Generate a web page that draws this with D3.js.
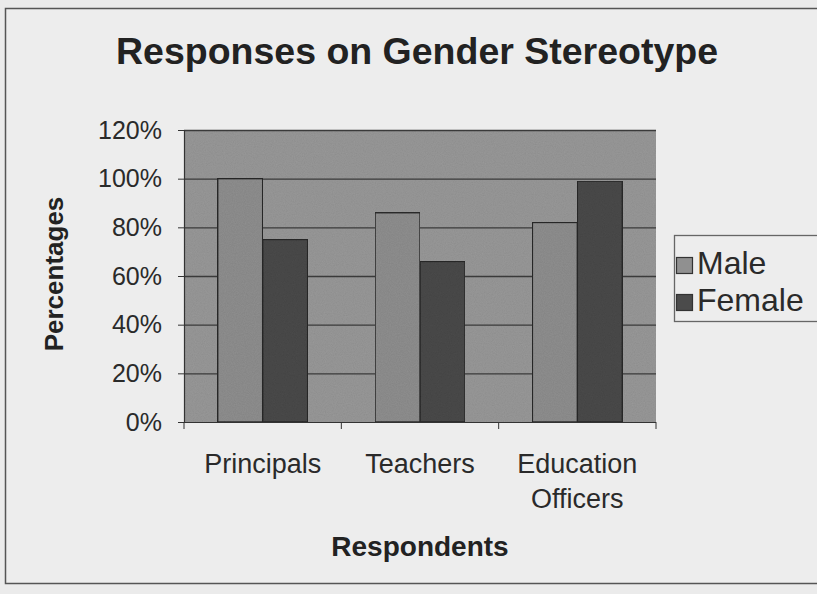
<!DOCTYPE html>
<html><head><meta charset="utf-8">
<script src="https://cdn.jsdelivr.net/npm/d3@7"></script>
<style>
html,body{margin:0;padding:0;background:#ebebeb;}
svg{display:block;font-family:"Liberation Sans",Arial,sans-serif;}
</style></head>
<body>
<script>
const categories = ["Principals", "Teachers", "Education Officers"];
const categoryLines = [["Principals"], ["Teachers"], ["Education", "Officers"]];
const seriesNames = ["Male", "Female"];
const maleValues = [100, 86, 82];
const femaleValues = [75, 66, 99];
const yTickValues = [0, 20, 40, 60, 80, 100, 120];

const W = 817, H = 594;
const plot = {left: 184, right: 656, top: 130, bottom: 422};
const colors = {Male: "#909090", Female: "#4b4b4b"};

const svg = d3.select("body").append("svg").attr("width", W).attr("height", H);

const defs = svg.append("defs");
const f = defs.append("filter").attr("id", "grain").attr("x", 0).attr("y", 0).attr("width", 1).attr("height", 1);
f.append("feTurbulence").attr("type", "fractalNoise").attr("baseFrequency", 0.9).attr("numOctaves", 2).attr("seed", 3).attr("result", "n");
f.append("feColorMatrix").attr("in", "n").attr("type", "matrix")
  .attr("values", "0 0 0 0 0  0 0 0 0 0  0 0 0 0 0  0 0 0 0.18 0").attr("result", "a");
f.append("feComposite").attr("in", "a").attr("in2", "SourceGraphic").attr("operator", "in").attr("result", "b");
f.append("feMerge").call(m => { m.append("feMergeNode").attr("in", "SourceGraphic"); m.append("feMergeNode").attr("in", "b"); });

// background and outer frame
svg.append("rect").attr("x", 0).attr("y", 0).attr("width", W).attr("height", H).attr("fill", "#ebebeb");
svg.append("rect").attr("x", 5.5).attr("y", 8.5).attr("width", W + 10).attr("height", 575)
  .attr("fill", "#ededed").attr("stroke", "#555").attr("stroke-width", 1.5);

const x0 = d3.scaleBand().domain(categories).range([plot.left, plot.right]).paddingInner(0).paddingOuter(0);
const y = d3.scaleLinear().domain([0, 120]).range([plot.bottom, plot.top]);

// plot area
svg.append("rect").attr("x", plot.left).attr("y", plot.top).attr("width", plot.right - plot.left)
  .attr("height", plot.bottom - plot.top).attr("fill", "#9a9a9a").attr("filter", "url(#grain)");

// gridlines
svg.append("g").selectAll("line").data(yTickValues.filter(v => v > 0)).join("line")
  .attr("x1", plot.left).attr("x2", plot.right)
  .attr("y1", d => y(d) + 0.5).attr("y2", d => y(d) + 0.5)
  .attr("stroke", "#3a3a3a").attr("stroke-width", 1.3);

// bars (gap width 150%)
const rows = categories.map((c, i) => ({cat: c, vals: [{s: "Male", v: maleValues[i]}, {s: "Female", v: femaleValues[i]}]}));
const bw = x0.bandwidth() / 3.5;
const g = svg.append("g").selectAll("g").data(rows).join("g")
  .attr("transform", d => `translate(${x0(d.cat) + bw * 0.75},0)`);
g.selectAll("rect").data(d => d.vals).join("rect")
  .attr("x", (d, i) => i * bw).attr("width", bw)
  .attr("y", d => y(d.v)).attr("height", d => y(0) - y(d.v))
  .attr("fill", d => colors[d.s]).attr("stroke", "#2a2a2a").attr("stroke-width", 1.4)
  .attr("filter", "url(#grain)");

// axes
const yAxis = d3.axisLeft(y).tickValues(yTickValues).tickFormat(d => d + "%").tickSize(6).tickPadding(16);
const ya = svg.append("g").attr("transform", `translate(${plot.left},0)`).call(yAxis);
ya.select(".domain").attr("stroke", "#333").attr("stroke-width", 1.2);
ya.selectAll(".tick line").attr("stroke", "#333");
ya.selectAll(".tick text").attr("font-size", 25).attr("fill", "#2a2a2a").attr("font-family", "Liberation Sans, Arial");

const xa = svg.append("g").attr("transform", `translate(0,${plot.bottom})`);
xa.append("line").attr("x1", plot.left).attr("x2", plot.right).attr("y1", 0.5).attr("y2", 0.5).attr("stroke", "#333").attr("stroke-width", 1.2);
const bounds = categories.map(c => x0(c)).concat([plot.right]);
xa.selectAll("line.tk").data(bounds).join("line").attr("class", "tk")
  .attr("x1", d => d).attr("x2", d => d).attr("y1", 0).attr("y2", 7).attr("stroke", "#333");
const lbl = xa.selectAll("text.cat").data(categories).join("text").attr("class", "cat")
  .attr("x", d => x0(d) + x0.bandwidth() / 2).attr("y", 51)
  .attr("text-anchor", "middle").attr("font-size", 27).attr("fill", "#2a2a2a");
lbl.each(function(d, i) {
  d3.select(this).selectAll("tspan").data(categoryLines[i]).join("tspan")
    .attr("x", x0(d) + x0.bandwidth() / 2).attr("dy", (t, j) => j === 0 ? 0 : 35).text(t => t);
});

// titles
svg.append("text").attr("x", 417).attr("y", 64).attr("text-anchor", "middle")
  .attr("font-size", 36).attr("font-weight", "bold").attr("fill", "#222")
  .attr("textLength", 602).attr("lengthAdjust", "spacingAndGlyphs")
  .text("Responses on Gender Stereotype");
svg.append("text").attr("x", 420).attr("y", 556).attr("text-anchor", "middle")
  .attr("font-size", 28).attr("font-weight", "bold").attr("fill", "#222")
  .text("Respondents");
svg.append("text").attr("transform", "translate(63,274) rotate(-90)").attr("text-anchor", "middle")
  .attr("font-size", 26).attr("font-weight", "bold").attr("fill", "#222")
  .text("Percentages");

// legend
const lg = svg.append("g");
lg.append("rect").attr("x", 674.5).attr("y", 235.5).attr("width", 150).attr("height", 86)
  .attr("fill", "#ededed").attr("stroke", "#666").attr("stroke-width", 1.3);
const li = lg.selectAll("g.it").data(seriesNames).join("g").attr("class", "it")
  .attr("transform", (d, i) => `translate(676,${274 + i * 37})`);
li.append("rect").attr("x", 0.5).attr("y", -16.5).attr("width", 16).attr("height", 16)
  .attr("fill", d => colors[d]).attr("stroke", "#333").attr("stroke-width", 1.2);
li.append("text").attr("x", 21).attr("y", 0).attr("font-size", 32).attr("fill", "#2a2a2a").text(d => d);
</script>
</body></html>
